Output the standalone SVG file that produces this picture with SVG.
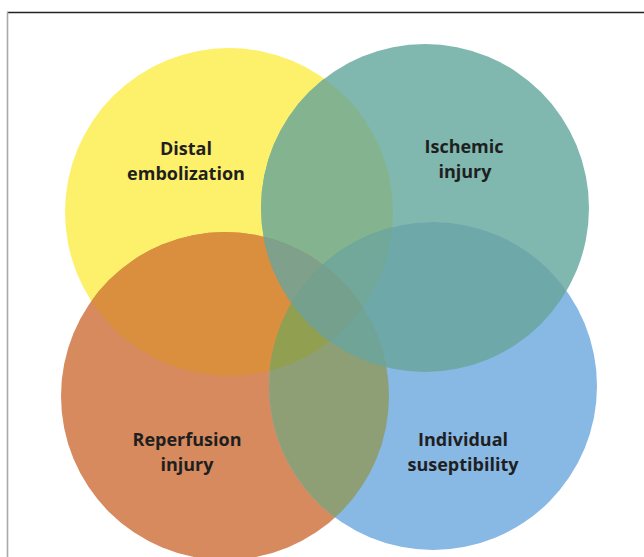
<svg xmlns="http://www.w3.org/2000/svg" width="644" height="557" viewBox="0 0 644 557">
<style>
.lbl{font-family:"Open Sans","DejaVu Sans",sans-serif;font-weight:700;font-size:18px;fill:#1f1f1f;text-anchor:middle}
</style>
<defs>
<clipPath id="cY"><circle cx="229" cy="212" r="164"/></clipPath>
<clipPath id="cT"><circle cx="425" cy="208" r="164"/></clipPath>
<clipPath id="cO"><circle cx="225" cy="396" r="164"/></clipPath>
<clipPath id="cB"><circle cx="433" cy="386" r="164"/></clipPath>
</defs>
<rect width="644" height="557" fill="#ffffff"/>
<line x1="7" y1="12.5" x2="644" y2="12.5" stroke="#222" stroke-width="1.3"/>
<line x1="7.5" y1="12" x2="7.5" y2="557" stroke="#aaa" stroke-width="1.6"/>
<g id="venn">
<g id="yellow"><circle cx="229" cy="212" r="164" fill="#fdf06b"/></g>
<g id="teal"><circle cx="425" cy="208" r="164" fill="#80b8b0"/></g>
<g id="orange"><circle cx="225" cy="396" r="164" fill="#d68a5e"/></g>
<g id="blue"><circle cx="433" cy="386" r="164" fill="#88b8e4"/></g>
<g id="overlaps">
<g clip-path="url(#cY)"><circle cx="425" cy="208" r="164" fill="#84b48f"/></g>
<g clip-path="url(#cY)"><circle cx="225" cy="396" r="164" fill="#da8f3e"/></g>
<g clip-path="url(#cY)"><circle cx="433" cy="386" r="164" fill="#72aa98"/></g>
<g clip-path="url(#cT)"><circle cx="225" cy="396" r="164" fill="#7ca08a"/></g>
<g clip-path="url(#cT)"><circle cx="433" cy="386" r="164" fill="#6fa8a8"/></g>
<g clip-path="url(#cO)"><circle cx="433" cy="386" r="164" fill="#8e9f75"/></g>
<g clip-path="url(#cY)"><g clip-path="url(#cT)"><circle cx="225" cy="396" r="164" fill="#7fa08a"/></g></g>
<g clip-path="url(#cY)"><g clip-path="url(#cT)"><circle cx="433" cy="386" r="164" fill="#72a899"/></g></g>
<g clip-path="url(#cY)"><g clip-path="url(#cO)"><circle cx="433" cy="386" r="164" fill="#90a050"/></g></g>
<g clip-path="url(#cT)"><g clip-path="url(#cO)"><circle cx="433" cy="386" r="164" fill="#6fa497"/></g></g>
<g clip-path="url(#cY)"><g clip-path="url(#cT)"><g clip-path="url(#cO)"><circle cx="433" cy="386" r="164" fill="#74a08d"/></g></g></g>
</g>
</g>
<g id="label-distal"><text class="lbl" x="186" y="155">Distal</text><text class="lbl" x="186" y="180">embolization</text></g>
<g id="label-ischemic"><text class="lbl" x="464" y="153">Ischemic</text><text class="lbl" x="465" y="178">injury</text></g>
<g id="label-reperfusion"><text class="lbl" x="187" y="446">Reperfusion</text><text class="lbl" x="187" y="471">injury</text></g>
<g id="label-individual"><text class="lbl" x="463" y="446">Individual</text><text class="lbl" x="463" y="471">suseptibility</text></g>
</svg>
